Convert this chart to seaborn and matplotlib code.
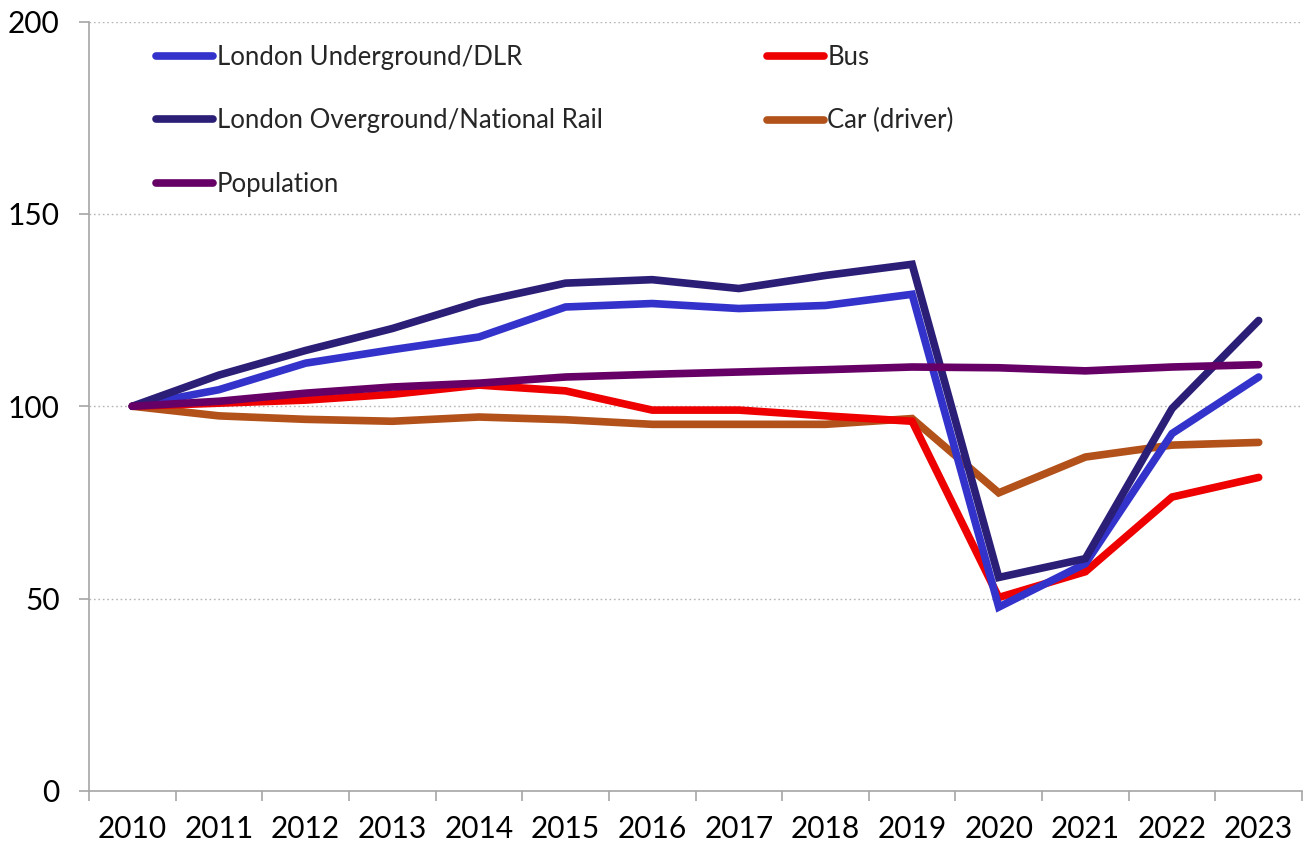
import numpy as np
import pandas as pd
import matplotlib
matplotlib.use("Agg")
import matplotlib.pyplot as plt
import seaborn as sns

years = [str(y) for y in range(2010, 2024)]

underground = [100, 104.3, 111.2, 114.7, 118.0, 125.8, 126.7, 125.4, 126.2, 129.1, 47.8, 59.1, 92.9, 107.6]
overground = [100, 108.1, 114.5, 120.2, 127.1, 132.0, 132.9, 130.6, 134.0, 136.9, 55.5, 60.4, 99.4, 122.3]
population = [100, 101.3, 103.4, 105.0, 106.0, 107.6, 108.3, 108.9, 109.5, 110.2, 110.0, 109.2, 110.2, 110.8]
bus = [100, 100.8, 101.6, 103.1, 105.5, 104.0, 99.0, 99.0, 97.5, 96.1, 50.3, 57.0, 76.4, 81.5]
car = [100, 97.5, 96.6, 96.1, 97.2, 96.5, 95.3, 95.3, 95.3, 96.8, 77.5, 86.8, 89.9, 90.6]

series_names = ["London Underground/DLR", "London Overground/National Rail", "Population",
                "Bus", "Car (driver)"]
series_values = [underground, overground, population, bus, car]
series_colors = ["#3333CC", "#2B1E76", "#660066", "#EE0000", "#B2511A"]

records = []
for name, vals in zip(series_names, series_values):
    for i, (yr, v) in enumerate(zip(years, vals)):
        records.append({"pos": i, "year": yr, "value": v, "series": name})
df = pd.DataFrame(records)

sns.set_style("white")
plt.rcParams["font.family"] = ["Lato", "DejaVu Sans"]

fig = plt.figure(figsize=(13.09, 8.44), dpi=100)
ax = fig.add_axes([89 / 1309, 53 / 844, 1213 / 1309, 769.5 / 844])

# draw lines in an order that keeps population on top of the rail lines
draw_order = ["Car (driver)", "Bus", "London Underground/DLR",
              "London Overground/National Rail", "Population"]
palette = dict(zip(series_names, series_colors))
sns.lineplot(data=df, x="pos", y="value", hue="series", hue_order=draw_order,
             palette=palette, linewidth=5.5, ax=ax, legend=False, sort=False)
for line in ax.lines:
    line.set_solid_capstyle("round")
    line.set_solid_joinstyle("miter")
ax.lines[-1].set_zorder(5)

ax.set_xlim(-0.5, len(years) - 0.5)
ax.set_ylim(0, 200)
ax.set_yticks([0, 50, 100, 150, 200])
ax.set_xticks(np.arange(-0.5, len(years), 1.0))
ax.set_xticklabels([])
ax.set_xticks(np.arange(len(years)), minor=True)
ax.set_xticklabels(years, minor=True)
ax.set_xlabel("")
ax.set_ylabel("")

ax.yaxis.grid(True, color="#b5b5b5", linestyle=(0, (1.2, 2.0)), linewidth=1.0)
ax.xaxis.grid(False)
for s in ["top", "right"]:
    ax.spines[s].set_visible(False)
for s in ["left", "bottom"]:
    ax.spines[s].set_color("#a6a6a6")
    ax.spines[s].set_linewidth(1.2)

ax.tick_params(axis="y", which="major", direction="out", length=7, width=1.2,
               color="#a6a6a6", left=True, labelsize=21.5, pad=14, labelcolor="black")
ax.tick_params(axis="x", which="major", direction="out", length=7, width=1.2,
               color="#a6a6a6", bottom=True)
ax.tick_params(axis="x", which="minor", length=0, labelsize=21.5, pad=17,
               labelcolor="black")

handles = [plt.Line2D([], [], color=c, linewidth=5.5, solid_capstyle="round")
           for c in series_colors]
leg = ax.legend(handles, series_names, ncol=2, loc="upper left",
                bbox_to_anchor=(0.047, 0.983), frameon=False, fontsize=18.5,
                handlelength=2.2, handletextpad=0.15, labelspacing=1.5,
                columnspacing=6.4, borderaxespad=0)

fig.savefig("out.png", dpi=100)
